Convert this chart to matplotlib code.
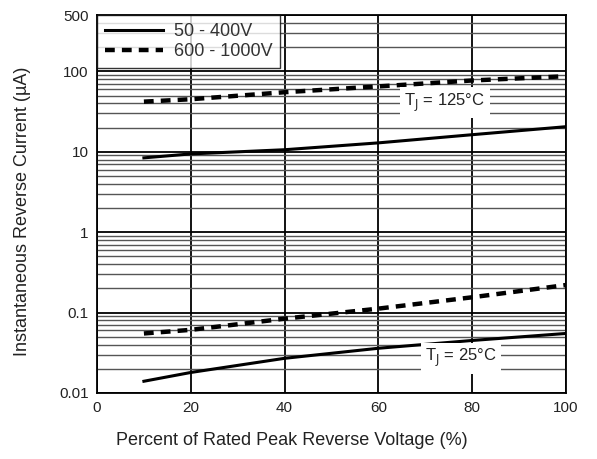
import matplotlib
matplotlib.use("Agg")
import matplotlib.pyplot as plt
from matplotlib.ticker import FixedLocator, NullFormatter

plt.rcParams["font.family"] = ["Liberation Sans", "DejaVu Sans"]

# percent of rated peak reverse voltage
x = [10, 20, 40, 60, 80, 100]

# Tj = 125C
i125_lo = [8.4, 9.4, 10.6, 12.9, 16.3, 20.5]     # 50 - 400V
i125_hi = [42, 45, 55, 65, 77, 87]               # 600 - 1000V
# Tj = 25C
i25_lo = [0.014, 0.018, 0.027, 0.036, 0.045, 0.055]
i25_hi = [0.055, 0.061, 0.084, 0.112, 0.155, 0.22]

yticks = [0.01, 0.1, 1, 10, 100, 500]
ylabels = ["0.01", "0.1", "1", "10", "100", "500"]
xticks = [0, 20, 40, 60, 80, 100]

fig = plt.figure(figsize=(5.97, 4.59), dpi=100)
ax = fig.add_axes([0.1625, 0.1438, 0.7855, 0.8232])

ax.set_yscale("log")
ax.set_xlim(0, 100)
ax.set_ylim(0.01, 500)

# grid: black decades, grey minors
minors = [m * 10.0 ** e for e in range(-2, 3) for m in range(2, 10)]
ax.yaxis.set_major_locator(FixedLocator(yticks))
ax.yaxis.set_minor_locator(FixedLocator(minors))
ax.yaxis.set_minor_formatter(NullFormatter())
ax.set_yticklabels(ylabels)
ax.set_xticks(xticks)
ax.grid(True, which="major", axis="both", color="black", lw=1.3)
ax.grid(True, which="minor", axis="y", color="#555555", lw=1.0)
ax.tick_params(which="both", length=0, labelsize=11, colors="#222222", pad=6)
for s in ax.spines.values():
    s.set_linewidth(1.3)

ax.plot(x, i125_lo, color="black", lw=2.2, label="50 - 400V")
ax.plot(x, i125_hi, color="black", lw=3.2, ls=(0, (2.2, 1.6)), label="600 - 1000V")
ax.plot(x, i25_lo, color="black", lw=2.2)
ax.plot(x, i25_hi, color="black", lw=3.2, ls=(0, (2.2, 1.6)))

ax.text(74.2, 41, "T$_\\mathrm{J}$ = 125°C", fontsize=12, ha="center", va="center",
        color="#222222", bbox=dict(facecolor="white", edgecolor="none", pad=3))
ax.text(77.6, 0.027, "T$_\\mathrm{J}$ = 25°C", fontsize=12, ha="center", va="center",
        color="#222222", bbox=dict(facecolor="white", edgecolor="none", pad=3))

leg = ax.legend(loc="upper left", fontsize=13, frameon=True, fancybox=False,
                borderaxespad=0, handlelength=3.2, borderpad=0.45,
                labelspacing=0.15, handletextpad=0.6)
leg.get_frame().set_edgecolor("black")
leg.get_frame().set_linewidth(1.0)
for t in leg.get_texts():
    t.set_color("#333333")

ax.set_xlabel("Percent of Rated Peak Reverse Voltage (%)", fontsize=13, color="#222222")
ax.xaxis.set_label_coords(0.415, -0.103)
ax.set_ylabel("Instantaneous Reverse Current (µA)", fontsize=13, color="#222222")
ax.yaxis.set_label_coords(-0.14, 0.48)

fig.savefig("out.png", dpi=100)
